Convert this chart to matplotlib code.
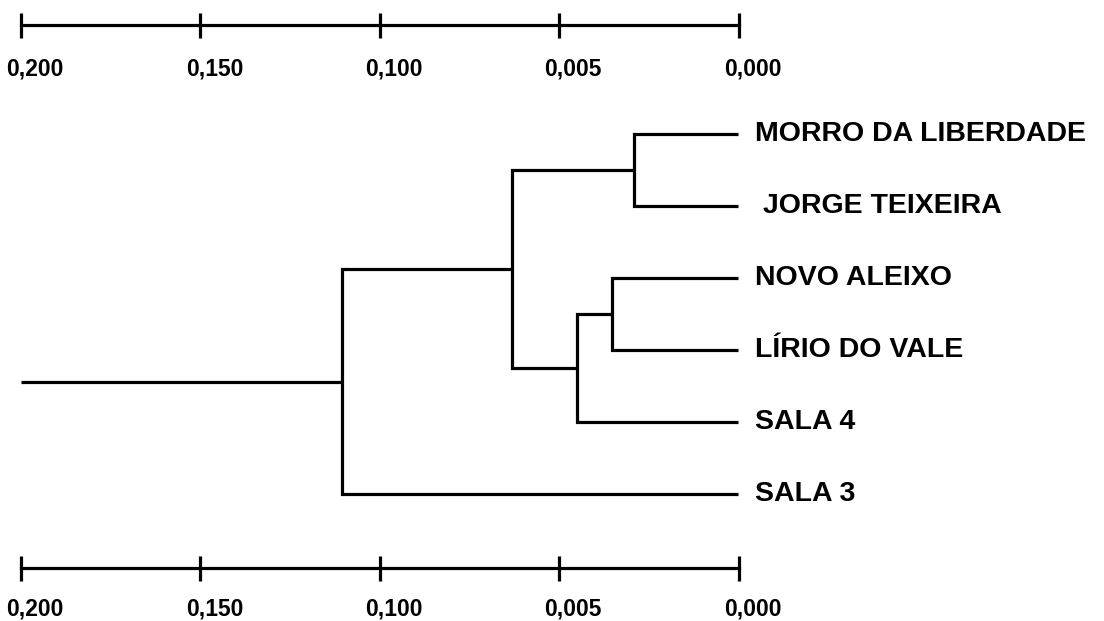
import matplotlib.pyplot as plt
from matplotlib.transforms import ScaledTranslation

plt.rcParams["font.family"] = ["Liberation Sans", "DejaVu Sans"]

leaf_labels = [
    "MORRO DA LIBERDADE",
    " JORGE TEIXEIRA",
    "NOVO ALEIXO",
    "LÍRIO DO VALE",
    "SALA 4",
    "SALA 3",
]
# merges in linkage order: node ids 0-5 are leaves, 6.. are merged clusters
merge_left = [0, 2, 7, 6, 9]
merge_right = [1, 3, 4, 8, 5]
merge_height = [0.0290, 0.0352, 0.0451, 0.0631, 0.1105]
root_height = 0.200

scale_ticks = [0.200, 0.150, 0.100, 0.050, 0.000]
scale_labels = ["0,200", "0,150", "0,100", "0,005", "0,000"]

W, H = 1104, 621
fig = plt.figure(figsize=(W / 100, H / 100), dpi=100)

# pixel layout of the reference
x_left_px, x_right_px = 21, 738.5
per_px = (scale_ticks[0] - scale_ticks[-1]) / (x_right_px - x_left_px)
xlim = (scale_ticks[0] + x_left_px * per_px, -(W - x_right_px) * per_px)

leaf_top_px, leaf_step_px = 134, 72
ylim = ((H - leaf_top_px) / leaf_step_px, -leaf_top_px / leaf_step_px)

ax = fig.add_axes([0, 0, 1, 1])
ax.set_xlim(*xlim)
ax.set_ylim(*ylim)
ax.axis("off")

lw = 2.3
node_y = {i: float(i) for i in range(len(leaf_labels))}
node_h = {i: 0.0 for i in range(len(leaf_labels))}
for k, (a, b, h) in enumerate(zip(merge_left, merge_right, merge_height)):
    nid = len(leaf_labels) + k
    ax.plot([node_h[a], h, h, node_h[b]], [node_y[a], node_y[a], node_y[b], node_y[b]],
            color="black", lw=lw, solid_joinstyle="miter", solid_capstyle="butt")
    node_y[nid] = (node_y[a] + node_y[b]) / 2
    node_h[nid] = h

root = len(leaf_labels) + len(merge_height) - 1
ax.plot([node_h[root], root_height], [node_y[root], node_y[root]],
        color="black", lw=lw, solid_capstyle="butt")

for i, lab in enumerate(leaf_labels):
    ax.annotate(lab, (0, i), xytext=(12, 0), textcoords="offset points",
                ha="left", va="center", fontsize=20.5, fontweight="bold")

# scale bars top and bottom
shift = ScaledTranslation(14 / 100, 0, fig.dpi_scale_trans)
for bar_px, pad in ((25, 14.5), (568, 12)):
    sax = fig.add_axes([x_left_px / W, 1 - bar_px / H, (x_right_px - x_left_px) / W, 0.0001])
    sax.set_xlim(scale_ticks[0], scale_ticks[-1])
    sax.set_yticks([])
    for side in ("top", "left", "right"):
        sax.spines[side].set_visible(False)
    sax.spines["bottom"].set_linewidth(lw)
    sax.set_xticks(scale_ticks)
    sax.set_xticklabels(scale_labels, fontsize=16.5, fontweight="bold")
    sax.tick_params(axis="x", direction="inout", length=18, width=lw, pad=pad)
    for t in sax.get_xticklabels():
        t.set_transform(t.get_transform() + shift)
    sax.patch.set_visible(False)

fig.savefig("out.png", dpi=100)
